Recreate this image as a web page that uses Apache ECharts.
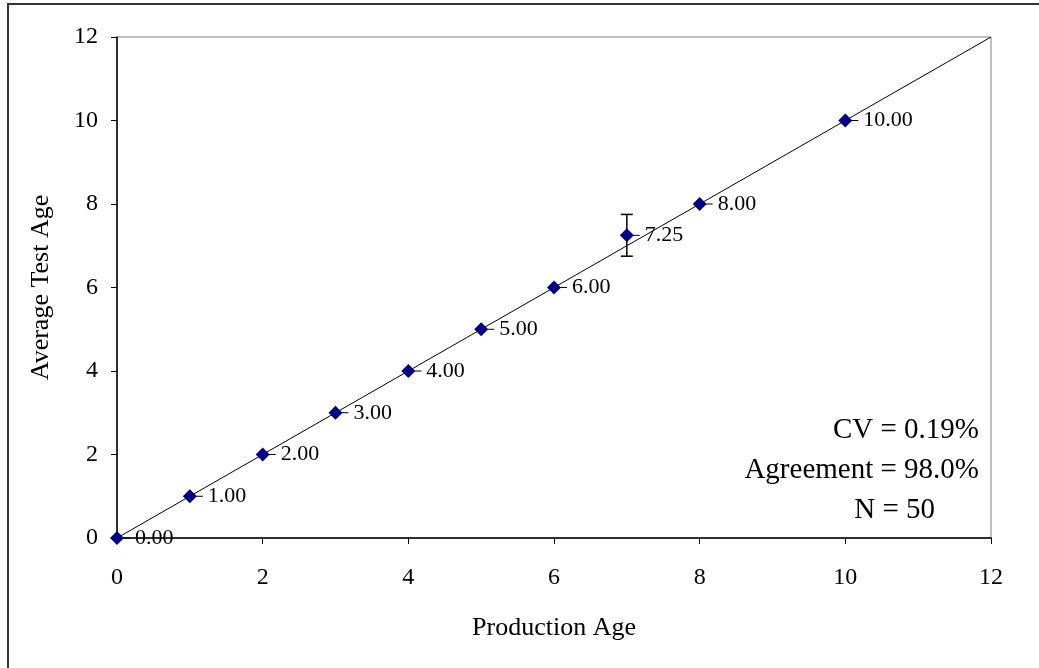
<!DOCTYPE html>
<html><head><meta charset="utf-8">
<script src="https://cdn.jsdelivr.net/npm/echarts@6/dist/echarts.min.js"></script>
<style>html,body{margin:0;padding:0;background:#fff}#c{width:1039px;height:668px}</style>
</head><body><div id="c"></div>
<script>
const productionAge = [0, 1, 2, 3, 4, 5, 6, 7, 8, 10];
const averageTestAge = [0.00, 1.00, 2.00, 3.00, 4.00, 5.00, 6.00, 7.25, 8.00, 10.00];
const errorLow = [0, 1, 2, 3, 4, 5, 6, 6.75, 8, 10];
const errorHigh = [0, 1, 2, 3, 4, 5, 6, 7.75, 8, 10];
const refLine = [[0, 0], [12, 12]];
const statsText = ['CV = 0.19%', 'Agreement = 98.0%', 'N = 50'];
const axisMin = 0, axisMax = 12, axisStep = 2;

const FONT = '"Liberation Serif", "Times New Roman", serif';
const pts = productionAge.map((x, i) => [x, averageTestAge[i]]);
const errs = productionAge.map((x, i) => [x, errorLow[i], errorHigh[i], averageTestAge[i]]);

const chart = echarts.init(document.getElementById('c'), null, {renderer: 'canvas'});
chart.setOption({
  animation: false,
  backgroundColor: '#fff',
  grid: {left: 117, right: 48, top: 37, bottom: 130, show: true, borderColor: '#808080', borderWidth: 1},
  xAxis: {
    type: 'value', min: axisMin, max: axisMax, interval: axisStep,
    name: 'Production Age', nameLocation: 'middle', nameGap: 77,
    nameTextStyle: {fontFamily: FONT, fontSize: 26, color: '#000'},
    axisLine: {show: true, onZero: false, lineStyle: {color: '#000', width: 1.5}},
    axisTick: {show: true, inside: false, length: 6, lineStyle: {color: '#000'}},
    axisLabel: {fontFamily: FONT, fontSize: 24, color: '#000', margin: 28},
    splitLine: {show: false}
  },
  yAxis: {
    type: 'value', min: axisMin, max: axisMax, interval: axisStep,
    name: 'Average Test Age', nameLocation: 'middle', nameGap: 63, nameRotate: 90,
    nameTextStyle: {fontFamily: FONT, fontSize: 26, color: '#000'},
    axisLine: {show: true, onZero: false, lineStyle: {color: '#000', width: 1.5}},
    axisTick: {show: true, inside: false, length: 6, lineStyle: {color: '#000'}},
    axisLabel: {fontFamily: FONT, fontSize: 24, color: '#000', margin: 19},
    splitLine: {show: false}
  },
  series: [
    {
      type: 'line', data: refLine, symbol: 'none', silent: true,
      lineStyle: {color: '#000', width: 1}, z: 2
    },
    {
      type: 'custom', z: 3, silent: true,
      data: errs,
      renderItem: function (params, api) {
        const x = api.value(0);
        const lo = api.coord([x, api.value(1)]);
        const hi = api.coord([x, api.value(2)]);
        const p = api.coord([x, api.value(3)]);
        const children = [];
        if (Math.abs(hi[1] - lo[1]) > 1) {
          const c = 6;
          children.push({type: 'line', shape: {x1: lo[0], y1: lo[1], x2: hi[0], y2: hi[1]}, style: {stroke: '#000', lineWidth: 1.5}});
          children.push({type: 'line', shape: {x1: lo[0] - c, y1: lo[1], x2: lo[0] + c, y2: lo[1]}, style: {stroke: '#000', lineWidth: 1.5}});
          children.push({type: 'line', shape: {x1: hi[0] - c, y1: hi[1], x2: hi[0] + c, y2: hi[1]}, style: {stroke: '#000', lineWidth: 1.5}});
        }
        children.push({type: 'line', shape: {x1: p[0] + 6, y1: p[1], x2: p[0] + 13, y2: p[1]}, style: {stroke: '#000', lineWidth: 1}});
        return {type: 'group', children: children};
      }
    },
    {
      type: 'scatter', data: pts, symbol: 'diamond', symbolSize: 14, z: 4,
      itemStyle: {color: '#000080', opacity: 1},
      label: {
        show: true, position: 'right', distance: 11,
        fontFamily: FONT, fontSize: 22, color: '#000',
        formatter: p => p.value[1].toFixed(2)
      }
    }
  ],
  graphic: [
    {type: 'rect', shape: {x: 8, y: 4, width: 1100, height: 800}, style: {fill: 'none', stroke: '#333', lineWidth: 2}, z: 10, silent: true},
    {type: 'text', right: 60, top: 416, style: {text: statsText[0], font: '29px ' + FONT, fill: '#000', textAlign: 'right'}},
    {type: 'text', right: 60, top: 456, style: {text: statsText[1], font: '29px ' + FONT, fill: '#000', textAlign: 'right'}},
    {type: 'text', right: 104, top: 496, style: {text: statsText[2], font: '29px ' + FONT, fill: '#000', textAlign: 'right'}}
  ]
});
</script></body></html>
